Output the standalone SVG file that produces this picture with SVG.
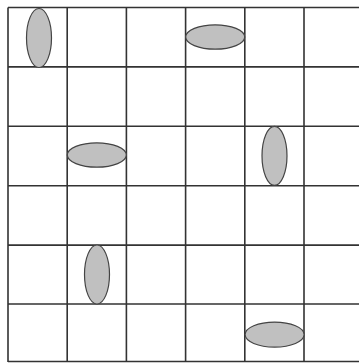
<svg xmlns="http://www.w3.org/2000/svg" width="359" height="363" viewBox="0 0 359 363">
<style>
.g{stroke:#333;stroke-width:1.6;fill:none}
.e{fill:#c0c0c0;stroke:#444;stroke-width:1.2}
</style>
<rect width="359" height="363" fill="#fff"/>
<g id="grid">
<path class="g" d="M8 7.5V362M67.2 7.5V362M126.4 7.5V362M185.6 7.5V362M244.8 7.5V362M304 7.5V362M8 7.5H359M8 66.9H359M8 126.3H359M8 185.7H359M8 245.1H359M8 304H359M8 361.5H359"/>
</g>
<g id="e1"><ellipse class="e" cx="39" cy="38" rx="12.5" ry="29.5"/></g>
<g id="e2"><ellipse class="e" cx="215.2" cy="37" rx="29.5" ry="12.2"/></g>
<g id="e3"><ellipse class="e" cx="96.8" cy="155" rx="29.5" ry="12.2"/></g>
<g id="e4"><ellipse class="e" cx="274.5" cy="155.8" rx="12.5" ry="29.5"/></g>
<g id="e5"><ellipse class="e" cx="97" cy="274.5" rx="12.5" ry="29.5"/></g>
<g id="e6"><ellipse class="e" cx="274.6" cy="334.6" rx="29.5" ry="12.5"/></g>
</svg>
